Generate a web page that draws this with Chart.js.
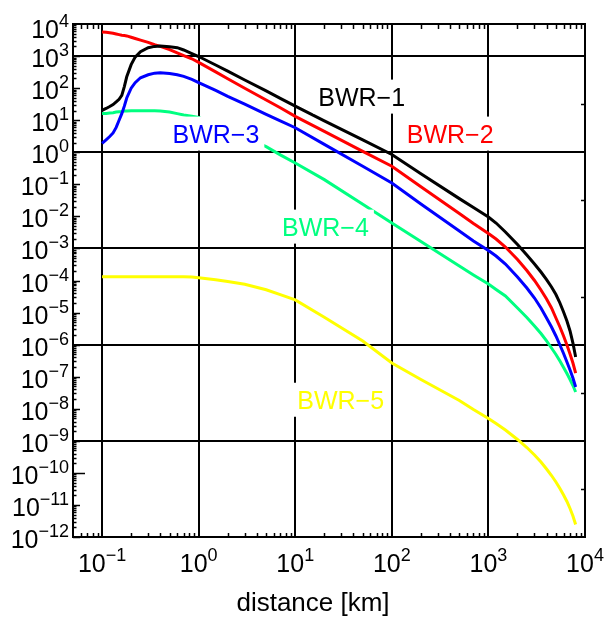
<!DOCTYPE html>
<html>
<head>
<meta charset="utf-8">
<script src="https://cdn.jsdelivr.net/npm/chart.js@4/dist/chart.umd.min.js"></script>
<style>
  html, body { margin: 0; padding: 0; background: #fff; }
  #wrap { width: 613px; height: 617px; }
</style>
</head>
<body>
<div id="wrap"><canvas id="c" width="613" height="617"></canvas></div>
<script>
// ---------- data ----------
const distance = [0.1, 0.11, 0.12, 0.13, 0.14, 0.15, 0.16, 0.17, 0.18, 0.2, 0.22, 0.25, 0.3, 0.35, 0.4, 0.5, 0.6, 0.7, 0.85,
  1, 1.5, 2, 3, 5, 7, 10, 20, 50, 100, 200, 500, 700, 1000, 1200,
  1500, 2000, 2500, 3000, 3500, 4000, 4500, 5000, 5500, 6000, 6500, 7000, 7500, 8000];
const bwr1 = [20.2, 23.2, 26.7, 30.8, 37.2, 44.9, 59.4, 112, 226, 540, 925, 1377, 1828, 2004, 2056, 1959, 1828, 1549, 1197,
  968, 526, 337, 179, 82.4, 48.1, 27.4, 9.53, 2.44, 0.849, 0.213, 0.0358, 0.0188, 9.57e-3, 6.21e-3,
  3.26e-3, 1.33e-3, 6.24e-4, 3.27e-4, 1.84e-4, 1.07e-4, 6.27e-5, 3.66e-5, 1.99e-5, 1.04e-5, 5.46e-6, 2.66e-6, 1.12e-6, 4.11e-7];
const bwr2 = [5636, 5495, 5370, 5129, 4898, 4667, 4457, 4355, 4246, 3873, 3524, 3133, 2661, 2254, 2004, 1585, 1256, 1040, 822,
  635, 322, 197, 99.5, 42.8, 24.4, 13.2, 4.50, 1.07, 0.366, 0.0843, 0.0123, 6.0e-3, 2.92e-3, 1.97e-3,
  1.11e-3, 4.52e-4, 2.05e-4, 1.0e-4, 5.06e-5, 2.65e-5, 1.39e-5, 6.76e-6, 3.55e-6, 1.86e-6, 9.73e-7, 5.11e-7, 2.67e-7, 1.30e-7];
const bwr3 = [1.89, 2.44, 3.09, 4.00, 5.96, 9.98, 16.0, 27.4, 49.2, 99.5, 148, 211, 261, 293, 300, 286, 261, 232, 188,
  148, 84.5, 55.3, 31.6, 15.2, 9.53, 5.82, 1.76, 0.366, 0.110, 0.0243, 3.50e-3, 1.71e-3, 8.63e-4, 5.81e-4,
  3.27e-4, 1.29e-4, 5.83e-5, 2.84e-5, 1.39e-5, 6.76e-6, 3.55e-6, 1.86e-6, 9.73e-7, 5.28e-7, 2.87e-7, 1.61e-7, 9.10e-8, 4.76e-8];
const bwr4 = [16.3, 16.3, 16.7, 17.1, 17.9, 18.4, 18.8, 19.3, 19.3, 19.7, 19.7, 19.7, 19.7, 19.7, 19.3, 17.9, 16.0, 14.5, 13.2,
  12.1, null, null, null, 1.49, 0.830, 0.461, 0.140, 0.0240, 6.21e-3, 1.64e-3, 2.83e-4, 1.49e-4, 7.78e-5, 5.24e-5,
  3.28e-5, 1.39e-5, 7.01e-6, 3.81e-6, 2.22e-6, 1.30e-6, 7.85e-7, 4.92e-7, 3.08e-7, 1.94e-7, 1.26e-7, 8.17e-8, 5.31e-8, 3.33e-8];
const bwr5 = [1.31e-4, 1.31e-4, 1.31e-4, 1.31e-4, 1.31e-4, 1.31e-4, 1.31e-4, 1.31e-4, 1.31e-4, 1.31e-4, 1.31e-4, 1.31e-4, 1.31e-4, 1.31e-4, 1.31e-4, 1.31e-4, 1.31e-4, 1.31e-4, 1.28e-4,
  1.22e-4, 1.06e-4, 9.25e-5, 7.66e-5, 5.14e-5, 3.61e-5, 2.48e-5, 7.16e-6, 1.29e-6, 2.67e-7, 8.17e-8, 1.81e-8, 9.48e-9, 4.97e-9, 3.47e-9,
  2.17e-9, 1.10e-9, 6.18e-10, 3.61e-10, 2.18e-10, 1.32e-10, 8.28e-11, 5.19e-11, 3.26e-11, 2.04e-11, 1.28e-11, 7.74e-12, 4.52e-12, 2.45e-12];
const seriesNames = ['BWR\u22121', 'BWR\u22122', 'BWR\u22123', 'BWR\u22124', 'BWR\u22125'];

// ---------- axis / tick definitions ----------
const xTickExps = [-1, 0, 1, 2, 3, 4];
const yTickExps = [4, 3, 2, 1, 0, -1, -2, -3, -4, -5, -6, -7, -8, -9, -10, -11, -12];
const xGridExps = [-1, 0, 1, 2, 3];
const yGridExps = [3, 0, -3, -6, -9];
const rightTickExps = [1.5, -1.5, -4.5, -7.5, -10.5];
const leftLongTickExps = [-10];
const xTitle = 'distance [km]';

// ---------- styles ----------
const colors = ['#000000', '#ff0000', '#0000ff', '#00ff80', '#ffff00'];
// label anchors (left, baseline) in data coordinates
const labelAnchors = [
  { x: 17.3, y: 28.5 },
  { x: 142.6, y: 2.0 },
  { x: 0.536, y: 2.0 },
  { x: 7.3, y: 2.51e-3 },
  { x: 10.5, y: 1.0e-8 }
];
const FONT = '"Liberation Sans", Arial, Helvetica, sans-serif';

const allSeries = [bwr1, bwr2, bwr3, bwr4, bwr5];
const datasets = allSeries.map((vals, i) => ({
  label: seriesNames[i],
  data: distance.map((d, k) => ({ x: d, y: vals[k] })),
  borderColor: colors[i],
  backgroundColor: colors[i],
  borderWidth: 3,
  pointRadius: 0,
  tension: 0,
  spanGaps: true,
  fill: false
}));

function supText(e) {
  return e < 0 ? '\u2212' + Math.abs(e) : String(e);
}

function drawPow(ctx, e, xPos, baseline, align) {
  const base = '10', sup = supText(e);
  ctx.font = '25px ' + FONT;
  const wb = ctx.measureText(base).width;
  ctx.font = '18px ' + FONT;
  const ws = ctx.measureText(sup).width;
  const total = wb + ws;
  const left = align === 'right' ? xPos - total : xPos - total / 2;
  ctx.textAlign = 'left';
  ctx.textBaseline = 'alphabetic';
  ctx.fillStyle = '#000';
  ctx.font = '25px ' + FONT;
  ctx.fillText(base, left, baseline);
  ctx.font = '18px ' + FONT;
  ctx.fillText(sup, left + wb, baseline - 11);
}

function line(ctx, x1, y1, x2, y2) {
  ctx.beginPath();
  ctx.moveTo(x1, y1);
  ctx.lineTo(x2, y2);
  ctx.stroke();
}

const decor = {
  id: 'decor',
  beforeDatasetsDraw(chart) {
    const { ctx, chartArea: a, scales: { x, y } } = chart;
    ctx.save();
    ctx.strokeStyle = '#000';
    ctx.lineWidth = 2;
    yGridExps.forEach(e => {
      const yy = Math.round(y.getPixelForValue(Math.pow(10, e)));
      line(ctx, a.left, yy, a.right, yy);
    });
    xGridExps.forEach(e => {
      const xx = Math.round(x.getPixelForValue(Math.pow(10, e)));
      line(ctx, xx, a.top, xx, a.bottom);
    });
    ctx.restore();
  },
  afterDatasetsDraw(chart) {
    const { ctx, chartArea: a, scales: { x, y } } = chart;
    ctx.save();
    // series labels with white boxes
    ctx.font = '25px ' + FONT;
    ctx.textAlign = 'left';
    ctx.textBaseline = 'alphabetic';
    seriesNames.forEach((name, i) => {
      const lx = x.getPixelForValue(labelAnchors[i].x);
      const ly = y.getPixelForValue(labelAnchors[i].y);
      const w = ctx.measureText(name).width;
      ctx.fillStyle = '#fff';
      ctx.fillRect(lx - 5, ly - 18 - 8, w + 10, 18 + 16);
      ctx.fillStyle = colors[i];
      ctx.fillText(name, lx, ly);
    });

    // frame
    ctx.strokeStyle = '#000';
    ctx.lineWidth = 2;
    ctx.strokeRect(a.left, a.top, a.right - a.left, a.bottom - a.top);

    // minor/major ticks
    ctx.lineWidth = 1.5;
    const xMin = x.min, xMax = x.max, yMin = y.min, yMax = y.max;
    for (let e = Math.floor(Math.log10(xMin)); e <= Math.ceil(Math.log10(xMax)); e++) {
      for (let m = 2; m <= 9; m++) {
        const v = m * Math.pow(10, e);
        if (v <= xMin || v >= xMax) continue;
        const xx = Math.round(x.getPixelForValue(v)) + 0.5;
        line(ctx, xx, a.bottom, xx, a.bottom - 4);
        line(ctx, xx, a.top, xx, a.top + 5);
      }
    }
    for (let e = Math.round(Math.log10(yMin)); e < Math.round(Math.log10(yMax)); e++) {
      const yy0 = Math.round(y.getPixelForValue(Math.pow(10, e))) + 0.5;
      const len = leftLongTickExps.includes(e) ? 12 : 7;
      line(ctx, a.left, yy0, a.left + len, yy0);
      for (let m = 2; m <= 9; m++) {
        const yy = Math.round(y.getPixelForValue(m * Math.pow(10, e))) + 0.5;
        line(ctx, a.left, yy, a.left + 3.5, yy);
      }
    }
    rightTickExps.forEach(e => {
      const yy = Math.round(y.getPixelForValue(Math.pow(10, e))) + 0.5;
      line(ctx, a.right, yy, a.right - 4, yy);
    });

    // tick labels
    xTickExps.forEach(e => {
      const xx = x.getPixelForValue(Math.pow(10, e));
      drawPow(ctx, e, xx, a.bottom + 35, 'center');
    });
    yTickExps.forEach((e, i) => {
      const yy = y.getPixelForValue(Math.pow(10, e));
      const off = i === 0 ? 14 : 11;
      drawPow(ctx, e, a.left - 4, yy + off, 'right');
    });

    // axis title
    ctx.font = '26px ' + FONT;
    ctx.fillStyle = '#000';
    ctx.textAlign = 'center';
    ctx.fillText(xTitle, a.left + 240, 611);
    ctx.restore();
  }
};

new Chart(document.getElementById('c'), {
  type: 'line',
  data: { datasets },
  options: {
    responsive: false,
    devicePixelRatio: 1,
    animation: false,
    layout: { padding: { left: 73, right: 28, top: 24, bottom: 80 } },
    plugins: { legend: { display: false }, tooltip: { enabled: false } },
    scales: {
      x: { type: 'logarithmic', min: 0.05, max: 10000, display: false },
      y: { type: 'logarithmic', min: 1e-12, max: 1e4, display: false }
    }
  },
  plugins: [decor]
});
</script>
</body>
</html>
